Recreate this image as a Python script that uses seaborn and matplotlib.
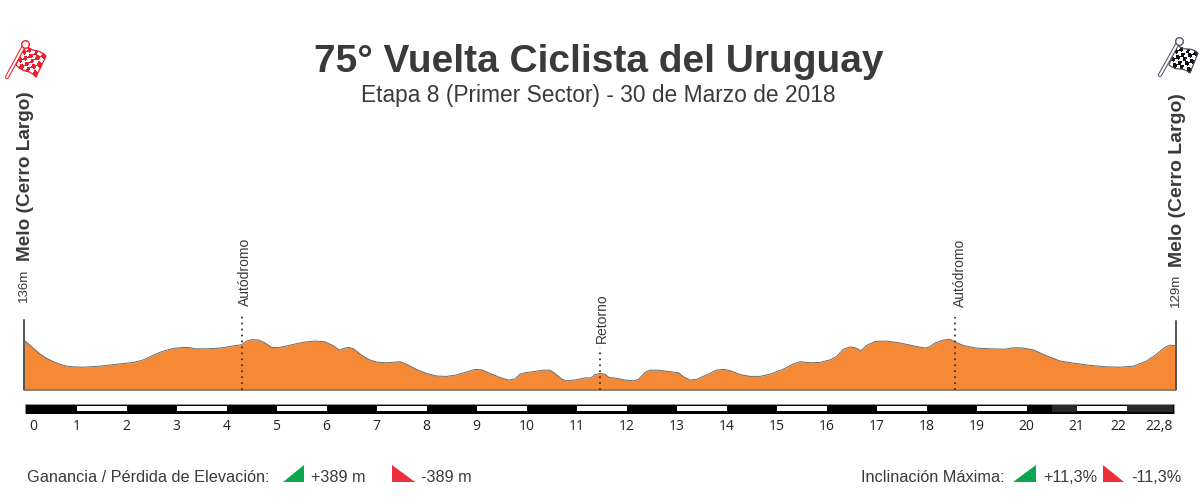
import numpy as np
import pandas as pd
import matplotlib
matplotlib.use('Agg')
import matplotlib.pyplot as plt
import seaborn as sns

km = [-0.06, 0.00, 0.14, 0.27, 0.40, 0.54, 0.67, 0.80, 0.94, 1.14, 1.47, 1.80, 2.14, 2.34, 2.54, 2.74, 2.94, 3.14,
      3.27, 3.37, 3.60, 3.87, 4.14, 4.30, 4.40, 4.50, 4.64, 4.77, 4.90, 5.04, 5.27, 5.54, 5.77, 5.97, 6.14, 6.26,
      6.34, 6.44, 6.54, 6.70, 6.84, 7.00, 7.20, 7.47, 7.60, 7.80, 8.00, 8.20, 8.40, 8.60, 8.80, 8.97, 9.10, 9.27,
      9.47, 9.64, 9.77, 9.87, 9.97, 10.14, 10.34, 10.47, 10.57, 10.70, 10.80, 11.00, 11.17, 11.29, 11.37, 11.47,
      11.57, 11.65, 11.80, 11.97, 12.14, 12.24, 12.37, 12.47, 12.64, 12.80, 13.04, 13.14, 13.27, 13.40, 13.60,
      13.80, 13.94, 14.07, 14.27, 14.47, 14.67, 14.87, 15.14, 15.34, 15.47, 15.67, 15.87, 16.07, 16.20, 16.34,
      16.47, 16.57, 16.69, 16.80, 16.97, 17.20, 17.47, 17.74, 17.97, 18.07, 18.17, 18.34, 18.47, 18.58, 18.74,
      19.00, 19.27, 19.57, 19.74, 19.94, 20.14, 20.40, 20.67, 20.94, 21.27, 21.60, 21.87, 22.14, 22.40, 22.60,
      22.77, 22.87, 22.99]
elev = [136, 130, 113, 98, 86, 77, 70, 65, 63, 62, 65, 70, 75, 82, 95, 106, 113, 116,
        115, 112, 112, 114, 120, 123, 133, 137, 136, 128, 116, 115, 122, 130, 133, 131, 120, 108,
        113, 116, 112, 95, 83, 76, 74, 77, 70, 56, 45, 38, 37, 41, 49, 56, 55, 45,
        34, 27, 30, 43, 47, 50, 54, 54, 45, 30, 25, 28, 33, 33, 42, 45,
        43, 34, 32, 27, 25, 29, 48, 54, 54, 51, 47, 36, 27, 29, 41,
        54, 56, 53, 42, 37, 37, 43, 57, 71, 77, 74, 75, 82, 91, 111,
        117, 115, 107, 121, 132, 133, 128, 120, 114, 118, 128, 136, 138, 130, 121,
        114, 112, 111, 115, 114, 109, 93, 79, 73, 67, 63, 62, 65, 79, 97,
        116, 122, 120]

place_names = ['Autódromo', 'Retorno', 'Autódromo']
place_km = [4.30, 11.47, 18.58]
place_top = [204, 114, 199]

tick_labels = [str(i) for i in range(0, 23)] + ['22,8']
tick_km = [0.13] + list(range(1, 22)) + [21.84, 22.65]

white_starts = [1, 3, 5, 7, 9, 11, 13, 15, 17, 19, 21]
dark_segments = [(20.5, 0.5), (22.0, 0.93)]

PX_W, PX_H = 1200, 504


def px_axes(fig, left, top, right, bottom):
    return fig.add_axes([left / PX_W, 1 - bottom / PX_H, (right - left) / PX_W, (bottom - top) / PX_H])


def draw_flag(ax, corners, pole, color, edge):
    # checker cloth, bilinear between four corners with a bit of wave
    tl, tr, br, bl = [np.array(c, dtype=float) for c in corners]
    nx, ny = 6, 5
    u = np.linspace(0, 1, nx + 1)
    v = np.linspace(0, 1, ny + 1)
    uu, vv = np.meshgrid(u, v)
    xs = (1 - uu) * (1 - vv) * tl[0] + uu * (1 - vv) * tr[0] + uu * vv * br[0] + (1 - uu) * vv * bl[0]
    ys = (1 - uu) * (1 - vv) * tl[1] + uu * (1 - vv) * tr[1] + uu * vv * br[1] + (1 - uu) * vv * bl[1]
    ys = ys + 1.2 * np.sin(uu * 2 * np.pi)
    cells = np.indices((ny, nx)).sum(axis=0) % 2
    ax.pcolormesh(xs, ys, cells, cmap=matplotlib.colors.ListedColormap(['white', color]), shading='flat', zorder=3)
    rim_x = np.r_[xs[0], xs[:, -1], xs[-1][::-1], xs[:, 0][::-1]]
    rim_y = np.r_[ys[0], ys[:, -1], ys[-1][::-1], ys[:, 0][::-1]]
    ax.plot(rim_x, rim_y, color=edge, lw=0.9, zorder=4)
    ax.plot(pole[0], pole[1], color=edge, lw=3.0, solid_capstyle='round', zorder=5)
    ax.plot(pole[0], pole[1], color='white', lw=1.5, solid_capstyle='round', zorder=6)
    ax.scatter([pole[0][0]], [pole[1][0]], s=30, color='white', edgecolor=edge, lw=1, zorder=7)


sns.set_theme(style='white')
plt.rcParams['font.family'] = ['Liberation Sans', 'DejaVu Sans']
text_col = '#3a3a3a'

fig = plt.figure(figsize=(12, 5.04), dpi=100, facecolor='white')

# profile
ax = px_axes(fig, 0, 230, PX_W, 390)
profile = pd.DataFrame({'km': km, 'elev': elev})
ax.fill_between(profile['km'], profile['elev'], 0, color='#F68935', lw=0, zorder=1)
sns.lineplot(data=profile, x='km', y='elev', estimator=None, color='#6a6a6a', lw=0.7, ax=ax, zorder=2)
ax.plot([km[0], km[-1]], [0, 0], color='#777777', lw=1.2, zorder=2, clip_on=False)
ax.plot([km[0], km[0]], [0, 190], color='#555555', lw=1.4, zorder=3)
ax.plot([km[-1], km[-1]], [0, 187], color='#555555', lw=1.4, zorder=3)
ax.vlines(place_km, 0, place_top, color='#333333', lw=1.3, linestyles=(0, (1, 2.3)), zorder=4)
ax.set_xlim(-0.53, 23.47)
ax.set_ylim(0, 435)
ax.axis('off')

# distance bar
bar = px_axes(fig, 0, 403.5, PX_W, 413.5)
bar.set_xlim(-0.53, 23.47)
bar.set_ylim(0, 1)
bar.barh(0.5, 22.97, left=-0.03, height=1, color='black', edgecolor='#999999', lw=0.6)
for start, width in dark_segments:
    bar.barh(0.5, width, left=start, height=0.72, color='#2a2a2a', lw=0)
bar.barh(0.5, [1] * len(white_starts), left=white_starts, height=0.5, color='white', lw=0)
for spine in bar.spines.values():
    spine.set_visible(False)
bar.set_yticks([])
bar.set_xticks(tick_km)
bar.set_xticklabels(tick_labels, fontsize=10, color='#222222', family='Open Sans')
bar.tick_params(axis='x', length=0, pad=4)

# titles, labels, icons in pixel coords
over = fig.add_axes([0, 0, 1, 1], facecolor='none')
over.set_xlim(0, PX_W)
over.set_ylim(PX_H, 0)
over.axis('off')

over.text(598.5, 62.5, '75° Vuelta Ciclista del Uruguay', ha='center', va='center', fontsize=28,
          fontweight='bold', color=text_col)
over.text(598, 95.5, 'Etapa 8 (Primer Sector) - 30 de Marzo de 2018', ha='center', va='center', fontsize=16.4,
          color=text_col)

over.text(26, 176, 'Melo (Cerro Largo)', rotation=90, ha='center', va='center', fontsize=13.7,
          fontweight='bold', color=text_col)
over.text(1178, 180, 'Melo (Cerro Largo)', rotation=90, ha='center', va='center', fontsize=14,
          fontweight='bold', color=text_col)
over.text(24, 285, '136m', rotation=90, ha='center', va='center', fontsize=9.5, color=text_col)
over.text(1176, 290, '129m', rotation=90, ha='center', va='center', fontsize=9.5, color=text_col)

for name, x, y in zip(place_names, [245, 602, 960], [272, 318, 273]):
    over.text(x, y, name, rotation=90, ha='center', va='center', fontsize=10, color=text_col)

over.text(27, 477, 'Ganancia / Pérdida de Elevación:', ha='left', va='center', fontsize=11.7, color=text_col)
over.text(311, 477, '+389 m', ha='left', va='center', fontsize=11.7, color=text_col)
over.text(421, 477, '-389 m', ha='left', va='center', fontsize=11.7, color=text_col)
over.text(861, 477, 'Inclinación Máxima:', ha='left', va='center', fontsize=11.7, color=text_col)
over.text(1043, 477, '+11,3%', ha='left', va='center', fontsize=11.7, color=text_col)
over.text(1131, 477, '-11,3%', ha='left', va='center', fontsize=11.7, color=text_col)

green, red = '#0BA650', '#EE2D3D'
over.fill([283, 304, 304], [482, 482, 465], color=green, lw=0)
over.fill([392, 392, 415], [465, 482, 482], color=red, lw=0)
over.fill([1013, 1036, 1036], [482, 482, 465], color=green, lw=0)
over.fill([1103, 1103, 1124], [465, 482, 482], color=red, lw=0)

draw_flag(over, [(25, 45), (46, 56), (36, 77), (16, 65)], ([25, 7], [44, 77]), '#F01E2C', '#F01E2C')
draw_flag(over, [(1177, 45), (1198, 53), (1190, 73), (1169, 65)], ([1179, 1160], [41, 75]), '#111111', '#555566')

fig.savefig('out.png', dpi=100, facecolor='white')
